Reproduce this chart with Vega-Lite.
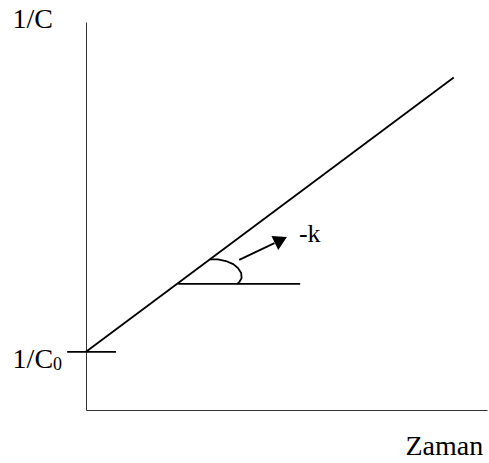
{
  "$schema": "https://vega.github.io/schema/vega-lite/v6.json",
  "width": 401,
  "height": 388,
  "autosize": {"type": "none"},
  "padding": {"left": 86, "top": 22, "right": 2, "bottom": 53},
  "background": "white",
  "config": {"view": {"stroke": null}, "font": "Liberation Serif"},
  "datasets": {
    "strokes": [
      {"seg": "line", "i": 0, "t": 0, "v": 1.5},
      {"seg": "line", "i": 1, "t": 9.17, "v": 8.57},
      {"seg": "c0tick", "i": 0, "t": -0.47, "v": 1.5},
      {"seg": "c0tick", "i": 1, "t": 0.75, "v": 1.5},
      {"seg": "base", "i": 0, "t": 2.3, "v": 3.25},
      {"seg": "base", "i": 1, "t": 5.34, "v": 3.25},
      {"seg": "arc", "i": 0, "t": 3.09, "v": 3.88},
      {"seg": "arc", "i": 1, "t": 3.29, "v": 3.88},
      {"seg": "arc", "i": 2, "t": 3.49, "v": 3.84},
      {"seg": "arc", "i": 3, "t": 3.67, "v": 3.76},
      {"seg": "arc", "i": 4, "t": 3.79, "v": 3.66},
      {"seg": "arc", "i": 5, "t": 3.87, "v": 3.53},
      {"seg": "arc", "i": 6, "t": 3.88, "v": 3.40},
      {"seg": "arc", "i": 7, "t": 3.83, "v": 3.31},
      {"seg": "arc", "i": 8, "t": 3.77, "v": 3.25},
      {"seg": "shaft", "i": 0, "t": 3.82, "v": 3.87},
      {"seg": "shaft", "i": 1, "t": 4.70, "v": 4.30}
    ],
    "arrowhead": [{"t": 4.86, "v": 4.38}],
    "labels": [
      {"t": -1.83, "v": 1.075, "text": "1/C", "size": 28},
      {"t": -0.82, "v": 1.03, "text": "0", "size": 18},
      {"t": 5.31, "v": 4.32, "text": "-k", "size": 26}
    ]
  },
  "encoding": {
    "x": {
      "field": "t",
      "type": "quantitative",
      "scale": {"domain": [0, 10], "nice": false, "zero": false},
      "axis": {
        "title": "Zaman",
        "ticks": false,
        "labels": false,
        "grid": false,
        "domainColor": "#333333",
        "domainWidth": 1,
        "titleFont": "Liberation Serif",
        "titleFontSize": 28,
        "titleFontWeight": "normal",
        "titleColor": "black",
        "titleAlign": "left",
        "titleBaseline": "alphabetic",
        "titleX": 319,
        "titleY": 44
      }
    },
    "y": {
      "field": "v",
      "type": "quantitative",
      "scale": {"domain": [0, 10], "nice": false, "zero": false},
      "axis": {
        "title": "1/C",
        "ticks": false,
        "labels": false,
        "grid": false,
        "domainColor": "#333333",
        "domainWidth": 1,
        "titleFont": "Liberation Serif",
        "titleFontSize": 28,
        "titleFontWeight": "normal",
        "titleColor": "black",
        "titleAngle": 0,
        "titleAlign": "left",
        "titleBaseline": "alphabetic",
        "titleX": -74,
        "titleY": 5
      }
    }
  },
  "layer": [
    {
      "data": {"name": "strokes"},
      "mark": {"type": "line", "color": "black", "strokeWidth": 1.8, "strokeCap": "butt"},
      "encoding": {
        "detail": {"field": "seg", "type": "nominal"},
        "order": {"field": "i", "type": "quantitative"}
      }
    },
    {
      "data": {"name": "arrowhead"},
      "mark": {"type": "point", "shape": "triangle-right", "filled": true, "color": "black", "opacity": 1, "size": 240, "angle": 334}
    },
    {
      "data": {"name": "labels"},
      "mark": {"type": "text", "align": "left", "baseline": "alphabetic", "color": "black", "font": "Liberation Serif"},
      "encoding": {
        "text": {"field": "text", "type": "nominal"},
        "size": {"field": "size", "type": "quantitative", "scale": null}
      }
    }
  ]
}
